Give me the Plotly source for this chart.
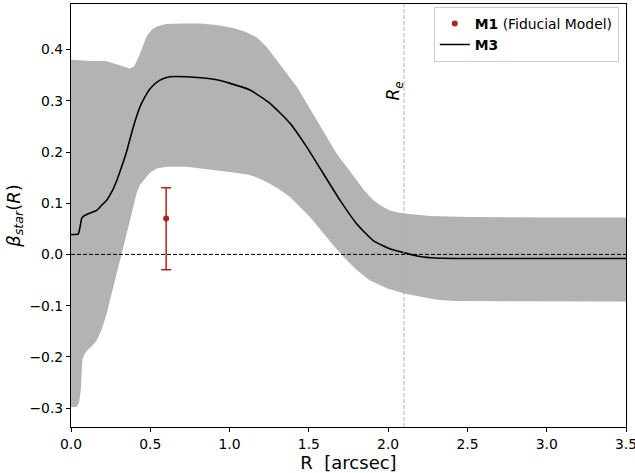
import plotly.graph_objects as go

# M3 profile
m3_x = [0.0, 0.03, 0.046, 0.058, 0.067, 0.08, 0.099, 0.13, 0.162, 0.19, 0.225, 0.26, 0.288, 0.31, 0.33,
        0.351, 0.37, 0.393, 0.42, 0.44, 0.456, 0.48, 0.50, 0.54, 0.58, 0.624, 0.729, 0.82, 0.918, 1.003, 1.129,
        1.255, 1.381, 1.486, 1.591, 1.696, 1.801, 1.906, 2.011, 2.117, 2.2, 2.3, 2.5, 3.0, 3.5]
m3_y = [0.039, 0.039, 0.040, 0.055, 0.070, 0.075, 0.078, 0.082, 0.086, 0.095, 0.106, 0.124, 0.144, 0.163, 0.181,
        0.201, 0.223, 0.249, 0.275, 0.292, 0.302, 0.315, 0.324, 0.336, 0.343, 0.347, 0.347, 0.345, 0.341, 0.334, 0.321,
        0.295, 0.256, 0.210, 0.158, 0.106, 0.060, 0.027, 0.011, 0.002, -0.004, -0.007, -0.008, -0.008, -0.008]

# Uncertainty band - upper edge
up_x = [0.0, 0.1, 0.225, 0.309, 0.372, 0.40, 0.435, 0.477, 0.51, 0.54, 0.60, 0.70, 0.813, 0.92, 1.023, 1.1,
        1.171, 1.234, 1.297, 1.36, 1.423, 1.486, 1.549, 1.612, 1.675, 1.74, 1.801, 1.85, 1.906, 1.96,
        2.011, 2.06, 2.106, 2.18, 2.264, 2.38, 2.5, 3.0, 3.5]
up_y = [0.380, 0.378, 0.377, 0.369, 0.363, 0.368, 0.392, 0.426, 0.439, 0.445, 0.450, 0.451, 0.451, 0.448, 0.442, 0.435,
        0.424, 0.405, 0.380, 0.355, 0.328, 0.295, 0.262, 0.229, 0.197, 0.170, 0.145, 0.125, 0.106, 0.094,
        0.086, 0.082, 0.080, 0.077, 0.075, 0.074, 0.073, 0.072, 0.072]

# Uncertainty band - lower edge
lo_x = [0.0, 0.036, 0.05, 0.062, 0.067, 0.072, 0.085, 0.099, 0.13, 0.162, 0.195, 0.225, 0.255, 0.288, 0.319,
        0.33, 0.351, 0.372, 0.393, 0.414, 0.435, 0.456, 0.50, 0.54, 0.603, 0.729, 0.85, 1.003, 1.129, 1.19, 1.255,
        1.32, 1.381, 1.44, 1.507, 1.56, 1.612, 1.665, 1.717, 1.76, 1.80, 1.885, 2.0, 2.108, 2.2, 2.3, 2.41, 3.0, 3.5]
lo_y = [-0.298, -0.298, -0.290, -0.265, -0.230, -0.205, -0.195, -0.188, -0.180, -0.168, -0.145, -0.116, -0.078, -0.037, 0.0,
        0.008, 0.035, 0.065, 0.093, 0.120, 0.136, 0.145, 0.160, 0.168, 0.171, 0.171, 0.167, 0.161, 0.155, 0.148, 0.138,
        0.126, 0.112, 0.094, 0.073, 0.054, 0.034, 0.014, -0.004, -0.018, -0.030, -0.051, -0.067, -0.077, -0.083, -0.088, -0.091, -0.092, -0.092]

# M1 fiducial point
m1_x = [0.6]
m1_y = [0.07]
m1_err_plus = [0.06]
m1_err_minus = [0.10]

r_e = 2.1

x_ticks = [0.0, 0.5, 1.0, 1.5, 2.0, 2.5, 3.0, 3.5]
y_ticks = [-0.3, -0.2, -0.1, 0.0, 0.1, 0.2, 0.3, 0.4]

FONT = "DejaVu Sans"

fig = go.Figure()

fig.add_trace(go.Scatter(
    x=up_x + lo_x[::-1], y=up_y + lo_y[::-1],
    fill="toself", fillcolor="#b3b3b3", mode="lines",
    line=dict(width=0, color="#b3b3b3"),
    showlegend=False, hoverinfo="skip"))

fig.add_trace(go.Scatter(
    x=m3_x, y=m3_y, mode="lines", name="<b>M3</b>",
    line=dict(color="black", width=1.6, shape="spline", smoothing=0.5),
    legendrank=2))

fig.add_trace(go.Scatter(
    x=m1_x, y=m1_y, mode="markers", name="<b>M1</b> (Fiducial Model)",
    marker=dict(color="#b22222", size=6),
    error_y=dict(type="data", symmetric=False, array=m1_err_plus, arrayminus=m1_err_minus,
                 color="#b22222", thickness=1.5, width=5),
    legendrank=1))

fig.add_shape(type="line", xref="paper", yref="y", x0=0, x1=1, y0=0, y1=0,
              line=dict(color="black", width=1, dash="4px,2px"))
fig.add_shape(type="line", xref="x", yref="paper", x0=r_e, x1=r_e, y0=0, y1=1,
              line=dict(color="#b0b0b0", width=1, dash="4px,2px"))

fig.add_annotation(x=r_e, y=0.318, xref="x", yref="y", text="<i>R<sub>e</sub></i>",
                   textangle=-90, showarrow=False, xanchor="center", yanchor="middle",
                   xshift=-9, font=dict(family=FONT, size=17, color="black"))

fig.update_layout(
    width=635, height=473,
    margin=dict(l=71, r=9, t=4, b=46),
    paper_bgcolor="white", plot_bgcolor="white",
    font=dict(family=FONT, size=13.9, color="black"),
    legend=dict(x=0.987, y=0.993, xanchor="right", yanchor="top",
                bgcolor="white", bordercolor="#cccccc", borderwidth=1,
                font=dict(family=FONT, size=13.9, color="black")),
    xaxis=dict(range=[0, 3.5], tickvals=x_ticks, tickformat=".1f", automargin=False,
               ticklabeloverflow="allow",
               showline=True, linecolor="black", linewidth=1.1, mirror=True,
               ticks="outside", ticklen=4, tickwidth=1, tickcolor="black",
               showgrid=False, zeroline=False,
               title=dict(text="R\u00a0 [arcsec]", font=dict(family=FONT, size=18), standoff=4)),
    yaxis=dict(range=[-0.337, 0.489], tickvals=y_ticks, tickformat=".1f", automargin=False,
               showline=True, linecolor="black", linewidth=1.1, mirror=True,
               ticks="outside", ticklen=4, tickwidth=1, tickcolor="black",
               showgrid=False, zeroline=False,
               title=dict(text="<i>β</i><sub><i>star</i></sub>(<i>R</i>)", font=dict(family=FONT, size=18), standoff=4)),
)

fig.write_html("out.html", config={"displayModeBar": False},
               post_script="document.body.style.margin='0';document.body.style.overflow='hidden';")
